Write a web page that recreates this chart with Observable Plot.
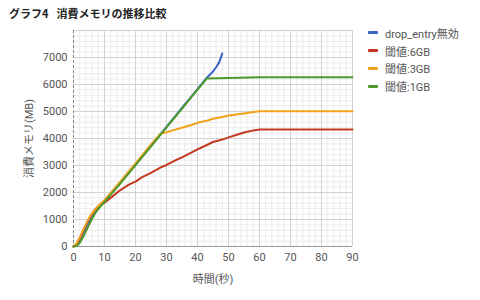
<!DOCTYPE html>
<html><head><meta charset="utf-8">
<script src="https://cdn.jsdelivr.net/npm/d3@7"></script>
<script src="https://cdn.jsdelivr.net/npm/@observablehq/plot@0.6"></script>
<style>
body{margin:0;background:#fff;font-family:Roboto,"Noto Sans CJK JP",sans-serif;}
#wrap{position:relative;width:480px;height:300px;}
#title{position:absolute;left:9px;top:5px;font-size:11px;font-weight:bold;color:#222;font-family:"Noto Sans CJK JP",sans-serif;white-space:pre;}
#legend{position:absolute;left:368px;top:24px;font-size:11px;color:#555;}
.li{display:flex;align-items:center;height:17.8px;}
.sw{width:10px;height:3px;border-radius:1px;margin-right:7px;}
svg{position:absolute;left:0;top:0;}
</style></head><body>
<div id="wrap"><div id="title">グラフ4&ensp;&nbsp;消費メモリの推移比較</div><div id="legend"></div></div>
<script>
const seriesNames = ["drop_entry無効","閾値:6GB","閾値:3GB","閾値:1GB"];
const seriesColors = ["#3b64c8","#c2391f","#f2a11c","#4c9a2a"];
const blueT = [0,1,2,3,4,5,6,7,8,10,12,15,20,25,30,35,40,43,45,46,47,48];
const blueV = [0,60,230,460,700,930,1130,1300,1440,1680,1940,2340,3030,3730,4430,5130,5830,6250,6480,6640,6820,7150];
const redT = [0,1,2,3,4,5,6,7,8,9,10,12,15,18,20,22,25,28,30,33,35,38,40,43,45,48,50,53,55,58,60,90];
const redV = [0,100,300,550,800,1030,1210,1370,1480,1560,1620,1800,2080,2300,2400,2560,2730,2920,3020,3200,3300,3480,3600,3760,3870,3960,4040,4150,4220,4300,4330,4330];
const orangeT = [0,1,2,3,4,5,6,7,8,10,15,20,25,28,30,32,35,38,40,43,45,48,50,53,55,58,60,90];
const orangeV = [0,120,330,580,820,1050,1230,1380,1500,1720,2390,3080,3780,4170,4230,4300,4400,4500,4580,4660,4730,4800,4850,4900,4930,4980,5010,5010];
const greenT = [0,1,2,3,4,5,6,7,8,10,15,20,25,30,35,40,43,50,60,90];
const greenV = [0,20,130,330,560,800,1030,1230,1390,1650,2320,3010,3710,4410,5110,5810,6220,6240,6270,6270];
const xTicks = [0,10,20,30,40,50,60,70,80,90];
const yTicks = [0,1000,2000,3000,4000,5000,6000,7000];
const xMinor = d3.range(0,91,2);
const yMinor = d3.range(0,8001,200);

const toRows = (T,V,s)=>T.map((t,i)=>({t, v:V[i], s}));
const data = [
  ...toRows(blueT,blueV,seriesNames[0]),
  ...toRows(redT,redV,seriesNames[1]),
  ...toRows(orangeT,orangeV,seriesNames[2]),
  ...toRows(greenT,greenV,seriesNames[3])
];

const chart = Plot.plot({
  width:480, height:300,
  marginLeft:73, marginRight:128, marginTop:30, marginBottom:54,
  style:{fontFamily:'Roboto,"Noto Sans CJK JP",sans-serif', fontSize:"11px", background:"transparent"},
  x:{domain:[0,90]},
  y:{domain:[0,8000]},
  color:{domain:seriesNames, range:seriesColors},
  marks:[
    Plot.ruleX(xMinor,{stroke:"#ececec"}),
    Plot.ruleY(yMinor,{stroke:"#ececec"}),
    Plot.ruleX(xTicks.filter(d=>d>0),{stroke:"#d2d2d2"}),
    Plot.ruleY(yTicks.concat([8000]),{stroke:"#d2d2d2"}),
    Plot.ruleX([0],{stroke:"#888",strokeDasharray:"3,2"}),
    Plot.ruleY([0],{stroke:"#999"}),
    Plot.axisX({ticks:xTicks, tickSize:0, tickPadding:7, fill:"#555", tickFormat:d3.format("d"), label:"時間(秒)", labelAnchor:"center", labelArrow:"none", labelOffset:36}),
    Plot.axisY({ticks:yTicks, tickSize:0, tickPadding:6, fill:"#555", tickFormat:d3.format("d"), label:"消費メモリ(MB)", labelAnchor:"center", labelArrow:"none", labelOffset:48}),
    Plot.line(data,{x:"t", y:"v", z:"s", stroke:"s", strokeWidth:2, curve:"linear"})
  ]
});
document.getElementById("wrap").appendChild(chart);
const lg = document.getElementById("legend");
seriesNames.forEach((n,i)=>{
  const d=document.createElement("div"); d.className="li";
  d.innerHTML=`<span class="sw" style="background:${seriesColors[i]}"></span><span>${n}</span>`;
  lg.appendChild(d);
});
</script></body></html>
